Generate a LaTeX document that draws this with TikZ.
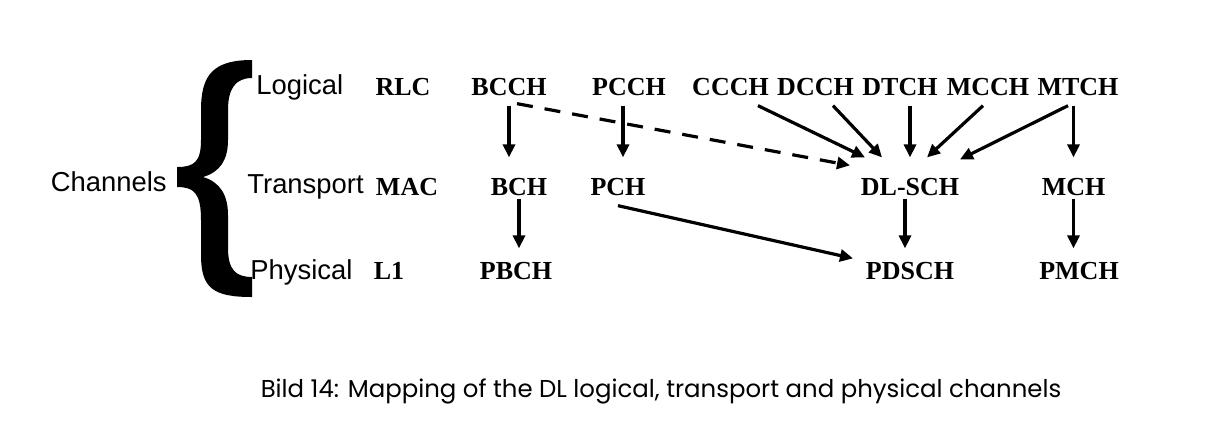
\documentclass[tikz,border=0pt]{standalone}
\usepackage{fontspec}
\setmainfont{Liberation Serif}
\newfontfamily\sanslabel{Liberation Sans}
\newfontfamily\captionfont{Poppins}
\usepackage{tikz}
\usetikzlibrary{arrows.meta}
\usetikzlibrary{calc}

\begin{document}
\begin{tikzpicture}[x=0.5pt, y=-0.5pt,
  chan/.style={anchor=base, inner sep=0, font=\bfseries\fontsize{13}{15}\selectfont},
  layer/.style={anchor=base west, inner sep=0, font=\sanslabel\fontsize{13.7}{15}\selectfont},
  arr/.style={-{Triangle[length=6.5pt, width=6pt]}, line width=1.6pt},
  down1/.style={shorten <=5pt, shorten >=10pt},
  down2/.style={shorten <=1.5pt, shorten >=6.5pt}]
\useasboundingbox (0,0) rectangle (1218,436);

% brace and layer names
\fill (252,60) .. controls (213,60) and (201,75) .. (201,110) -- (201,140)
  .. controls (201,162) and (194,167) .. (177,167) -- (177,187)
  .. controls (194,187) and (201,193) .. (201,220) -- (201,255)
  .. controls (201,288) and (213,297) .. (252,297) -- (252,277)
  .. controls (236,277) and (228,270) .. (228,248) -- (228,215)
  .. controls (228,195) and (220,182) .. (203,177)
  .. controls (220,172) and (228,160) .. (228,140) -- (228,110)
  .. controls (228,88) and (236,78) .. (252,78) -- cycle;
\node[anchor=base east, inner sep=0, font=\sanslabel\fontsize{13.7}{15}\selectfont] (channels) at (167,191) {Channels};
\node[layer] (logical) at (256,94) {Logical};
\node[layer] (transport) at (247,193) {Transport};
\node[layer] (physical) at (250,279) {Physical};

% logical channels
\node[chan] (rlc) at (403,95) {RLC};
\node[chan] (bcch) at (509,95) {BCCH};
\node[chan] (pcch) at (629,95) {PCCH};
\node[chan] (ccch) at (730.5,95) {CCCH};
\node[chan] (dcch) at (815.5,95) {DCCH};
\node[chan] (dtch) at (900,95) {DTCH};
\node[chan] (mcch) at (988,95) {MCCH};
\node[chan] (mtch) at (1078,95) {MTCH};

% transport channels
\node[chan] (mac) at (407,195) {MAC};
\node[chan] (bch) at (519,195) {BCH};
\node[chan] (pch) at (618,195) {PCH};
\node[chan] (dlsch) at (910,195) {DL-SCH};
\node[chan] (mch) at (1073.5,195) {MCH};

% physical channels
\node[chan] (l1) at (389,279) {L1};
\node[chan] (pbch) at (516,279) {PBCH};
\node[chan] (pdsch) at (910,279) {PDSCH};
\node[chan] (pmch) at (1079,279) {PMCH};

% mapping
\draw[arr, down1] (bcch.south) -- (bcch.south |- bch.north);
\draw[arr, down1] ([xshift=-3pt]pcch.south) -- ([xshift=-3pt]pcch.south |- pch.north);
\draw[arr, dash pattern=on 8pt off 6pt] ($(bcch.south)+(8,8)$) -- ($(dlsch.north)+(-60,-12)$);
\draw[arr] ($(ccch.south)+(27.5,10)$) -- ($(dlsch.north)+(-45,-20)$);
\draw[arr] ($(dcch.south)+(17.5,10)$) -- ($(dlsch.north)+(-28,-20)$);
\draw[arr, down1] (dlsch.north |- dtch.south) -- (dlsch.north);
\draw[arr] ($(mcch.south)+(-5,10)$) -- ($(dlsch.north)+(17,-20)$);
\draw[arr] ($(mtch.south)+(-10,10)$) -- ($(dlsch.north)+(50,-18)$);
\draw[arr, down1] (mch.north |- mtch.south) -- (mch.north);
\draw[arr, down2] (bch.south) -- (bch.south |- pbch.north);
\draw[arr] ($(pch.south)+(0,10)$) -- ($(pdsch.north)+(-57,-3)$);
\draw[arr, down2] ([xshift=-2.5pt]dlsch.south) -- ([xshift=-2.5pt]dlsch.south |- pdsch.north);
\draw[arr, down2] (mch.south) -- (mch.south |- pmch.north);

\node[anchor=base, inner sep=0, font=\captionfont\fontsize{12.2}{14}\selectfont] (caption) at (661,397) {Bild 14: Mapping of the DL logical, transport and physical channels};
\end{tikzpicture}
\end{document}
